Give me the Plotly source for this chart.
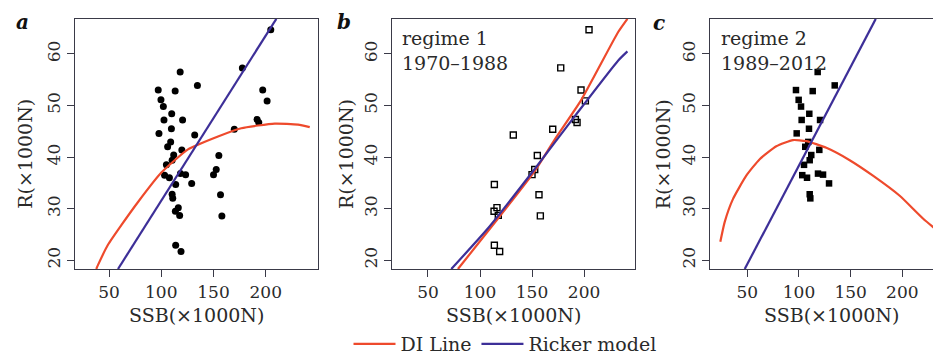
import plotly.graph_objects as go

# ---------------- data ----------------
# Regime 1 (1970-1988): SSB (x1000N) and recruitment R (x1000N)
r1_ssb = [204.8, 177.6, 197.1, 201.3, 191.7, 193.3, 169.9, 132.0, 155.1, 152.6,
          150.0, 113.8, 156.7, 116.3, 113.5, 117.6, 158.0, 113.8, 118.9]
r1_rec = [64.7, 57.3, 53.0, 50.9, 47.3, 46.7, 45.4, 44.3, 40.3, 37.6,
          36.6, 34.7, 32.7, 30.2, 29.5, 28.7, 28.6, 22.9, 21.7]

# Regime 2 (1989-2012)
r2_ssb = [118.1, 134.6, 97.1, 113.3, 99.7, 102.0, 110.0, 102.6, 120.4, 109.7,
          97.8, 109.0, 106.1, 119.7, 111.9, 110.4, 104.9, 103.2, 107.8, 118.4,
          123.3, 129.1, 110.4, 111.0]
r2_rec = [56.5, 53.9, 53.0, 52.8, 51.1, 49.8, 48.4, 47.2, 47.2, 45.5,
          44.6, 42.95, 42.0, 41.4, 40.4, 39.4, 38.5, 36.5, 36.0, 36.8,
          36.6, 34.9, 32.8, 32.0]

# Fitted lines, panel a (all years)
a_di_ssb = [37.8, 39.5, 49.0, 61.8, 77.8, 100.1, 125.6, 154.3, 176.6, 208.6, 230.9, 242.1]
a_di_rec = [18.3, 19.1, 23.0, 26.8, 31.3, 37.0, 41.5, 44.0, 45.6, 46.5, 46.3, 45.8]
a_rk_ssb = [58.6, 210.1]
a_rk_rec = [18.3, 66.8]

# Panel b (regime 1)
b_di_ssb = [78.8, 117.3, 152.6, 171.8, 197.4, 232.7, 241.7]
b_di_rec = [18.3, 28.1, 37.3, 43.4, 51.1, 64.2, 66.8]
b_rk_ssb = [72.4, 107.7, 152.6, 191.0, 232.7, 241.7]
b_rk_rec = [18.3, 26.2, 37.7, 47.9, 58.7, 60.5]

# Panel c (regime 2)
c_di_ssb = [23.9, 28.1, 36.2, 49.0, 62.0, 78.1, 94.2, 107.1, 126.5, 149.1, 171.6, 197.5, 220.0, 242.6]
c_di_rec = [23.6, 27.4, 31.9, 36.4, 39.6, 42.1, 43.3, 43.1, 41.8, 39.4, 36.4, 32.5, 28.1, 24.3]
c_rk_ssb = [47.5, 174.3]
c_rk_rec = [18.3, 66.8]

x_ticks = [50, 100, 150, 200]
y_ticks = [20, 30, 40, 50, 60]
panel_labels = ["a", "b", "c"]
regime_text = {"b": ["regime 1", "1970–1988"], "c": ["regime 2", "1989–2012"]}
x_title = "SSB(×1000N)"
y_title = "R(×1000N)"
legend_names = ["DI Line", "Ricker model"]

# ---------------- styling ----------------
W, H = 941, 355
RED = "#ee4a2c"
BLUE = "#3d2f98"
AX = "#3a3a48"
FONT = "DejaVu Serif"

fig = go.Figure()

def line(x, y, color, name, axis, show):
    fig.add_trace(go.Scatter(x=x, y=y, mode="lines", name=name, legendgroup=name,
                             showlegend=show, line=dict(color=color, width=2.2, shape="spline", smoothing=0.5),
                             xaxis="x" + axis, yaxis="y" + axis, hoverinfo="skip"))

# panel a: all points
fig.add_trace(go.Scatter(x=r1_ssb + r2_ssb, y=r1_rec + r2_rec, mode="markers", showlegend=False,
                         marker=dict(symbol="circle", size=7, color="black"), xaxis="x", yaxis="y"))
line(a_di_ssb, a_di_rec, RED, legend_names[0], "", True)
line(a_rk_ssb, a_rk_rec, BLUE, legend_names[1], "", True)

# panel b
fig.add_trace(go.Scatter(x=r1_ssb, y=r1_rec, mode="markers", showlegend=False,
                         marker=dict(symbol="square-open", size=6, color="black", line=dict(width=1.4)),
                         xaxis="x2", yaxis="y2"))
line(b_di_ssb, b_di_rec, RED, legend_names[0], "2", False)
line(b_rk_ssb, b_rk_rec, BLUE, legend_names[1], "2", False)

# panel c
fig.add_trace(go.Scatter(x=r2_ssb, y=r2_rec, mode="markers", showlegend=False,
                         marker=dict(symbol="square", size=6.5, color="black"),
                         xaxis="x3", yaxis="y3"))
line(c_di_ssb, c_di_rec, RED, legend_names[0], "3", False)
line(c_rk_ssb, c_rk_rec, BLUE, legend_names[1], "3", False)

# panel geometry (pixels)
panels = [
    dict(l=67, r=310, xr=[17.45, 250.0], ytx=17.5),
    dict(l=384, r=627, xr=[15.4, 249.0], ytx=338.7),
    dict(l=702, r=941, xr=[13.9, 245.2], ytx=655.0),
]
top, bottom = 11, 264
yr = [18.3, 66.8]

axis_common = dict(showline=True, linecolor=AX, linewidth=1.3, mirror=True, ticks="outside",
                   ticklen=7, tickwidth=1.3, tickcolor=AX, showgrid=False, zeroline=False,
                   tickfont=dict(family=FONT, size=17, color="#2a2a2a"))

annotations = []
label_pos = [(14, 14), (336, 14), (651, 15)]
for i, p in enumerate(panels):
    suf = "" if i == 0 else str(i + 1)
    fig.layout["xaxis" + suf] = dict(axis_common, domain=[p["l"] / W, p["r"] / W], range=p["xr"],
                                     tickvals=x_ticks, anchor="y" + suf)
    fig.layout["yaxis" + suf] = dict(axis_common, domain=[(H - bottom) / H, (H - top) / H], range=yr,
                                     tickvals=y_ticks, tickangle=-90, anchor="x" + suf)
    annotations.append(dict(text=x_title, x=(p["l"] + p["r"]) / 2 / W if i < 2 else (p["l"] + 243 / 2) / W,
                            y=(H - 310) / H, xref="paper", yref="paper", showarrow=False,
                            font=dict(family=FONT, size=19, color="#2a2a2a"), xanchor="center", yanchor="middle"))
    annotations.append(dict(text=y_title, x=p["ytx"] / W, y=(H - 148) / H, xref="paper", yref="paper",
                            showarrow=False, textangle=-90,
                            font=dict(family=FONT, size=19, color="#2a2a2a"), xanchor="center", yanchor="middle"))
    lx, ly = label_pos[i]
    annotations.append(dict(text="<b><i>" + panel_labels[i] + "</i></b>", x=lx / W, y=(H - ly) / H,
                            xref="paper", yref="paper", showarrow=False,
                            font=dict(family=FONT, size=20, color="#111"), xanchor="center", yanchor="middle"))

for key, x0 in (("b", 392), ("c", 711)):
    for j, t in enumerate(regime_text[key]):
        annotations.append(dict(text=t, x=x0 / W, y=(H - (30 + 26 * j)) / H, xref="paper", yref="paper",
                                showarrow=False, font=dict(family=FONT, size=19, color="#2a2a2a"),
                                xanchor="left", yanchor="middle"))

fig.update_layout(
    width=W, height=H, margin=dict(l=0, r=0, t=0, b=0),
    paper_bgcolor="white", plot_bgcolor="white",
    annotations=annotations,
    legend=dict(orientation="h", x=497 / W, xanchor="center", y=(H - 340) / H, yanchor="middle",
                font=dict(family=FONT, size=19, color="#2a2a2a"), bgcolor="rgba(0,0,0,0)",
                itemwidth=42, tracegroupgap=0),
)

fig.write_html("out.html")
